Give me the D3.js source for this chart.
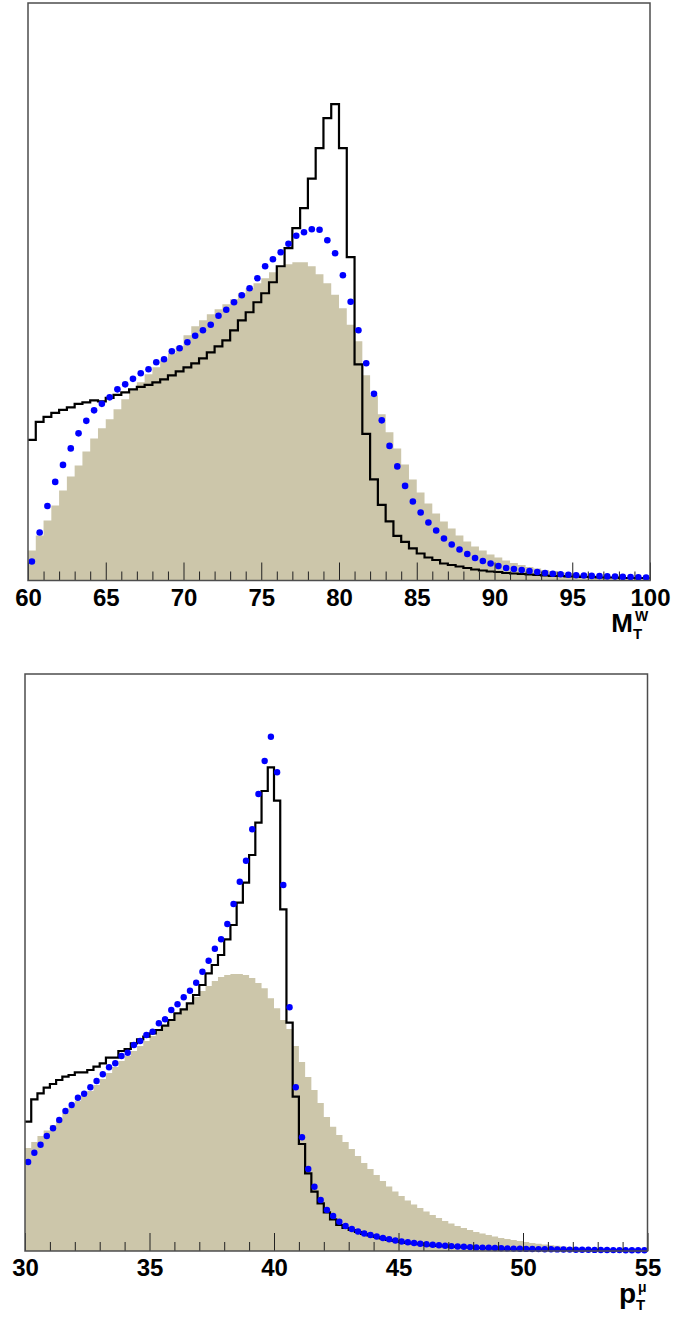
<!DOCTYPE html>
<html>
<head>
<meta charset="utf-8">
<script src="https://cdn.jsdelivr.net/npm/d3@7"></script>
<style>
  body { margin: 0; background: #fff; }
  svg text { font-family: "Liberation Sans", Arial, sans-serif; font-weight: bold; }
</style>
</head>
<body>
<div id="my_chart"></div>
<script>

// ---- data: transverse mass of the W (60-100, 80 bins of 0.5) ----
var mtRange = [60, 100];
var mtTicks = [60, 65, 70, 75, 80, 85, 90, 95, 100];
// shaded histogram
var mtFill = [30, 45, 60, 75, 90, 104, 115, 129, 142, 152,
  161, 171, 181, 190, 198, 206, 213, 220, 227, 234,
  245, 254, 260, 266, 271, 276, 281, 287, 292, 297,
  302, 308, 313, 316, 318, 318, 314, 306, 297, 285.5,
  272, 255.5, 239, 205, 185, 166, 148, 132, 116, 101,
  88, 77, 67, 59, 52, 45, 39, 34, 30, 26,
  23, 20, 17.5, 15.5, 13.5, 12, 10.5, 9.5, 8.5, 7.5,
  6.5, 6, 5.5, 5, 4.5, 4, 3.5, 3.2, 3, 2.8];
// black line histogram
var mtLine = [140.5, 158.5, 163.5, 167.5, 170.5, 173, 176.5, 178, 180, 179,
  182.5, 185.5, 188, 191, 193.5, 195.5, 198, 201, 205, 209,
  213, 217, 222, 228, 234, 240, 250, 260, 268, 278,
  287, 298, 314, 332, 352, 372, 401.5, 432, 462, 476,
  432, 323, 216, 146.5, 101, 75.5, 59, 44.5, 38.5, 32,
  27, 23, 20.5, 17, 15.5, 14, 12.5, 11, 10, 9,
  8.5, 7.5, 7, 6.5, 6, 5.5, 5, 4.5, 4.5, 4,
  4, 3.5, 3.5, 3, 3, 3, 2.5, 2.5, 2.5, 2.5];
// blue markers
var mtDots = [19, 48, 74.5, 98.5, 115.5, 132, 147, 159.5, 170, 176.5,
  183, 191, 196, 201.5, 207, 211, 218, 221, 229, 232,
  238, 244.5, 250, 255.5, 264.5, 270.5, 278, 285, 292, 302,
  314, 321, 328, 336.5, 344.5, 348, 351, 350.5, 340, 327,
  305, 278.5, 250, 217, 186.5, 160, 134.5, 114, 94.5, 79,
  68, 58, 50, 42, 36, 31, 26.5, 22.5, 19.5, 17,
  14.5, 12.5, 11.5, 10.5, 9.5, 8.5, 7.5, 6.8, 6.2, 5.7,
  5.2, 5, 4.6, 4.4, 4.1, 3.9, 3.6, 3.4, 3.2, 3];

// ---- data: muon transverse momentum (30-55, 100 bins of 0.25) ----
var ptRange = [30, 55];
var ptTicks = [30, 35, 40, 45, 50, 55];
var ptFill = [103, 109, 115, 120.5, 126, 132, 138, 144, 150, 155,
  160, 166, 172, 178, 184, 190, 195, 200, 205, 210,
  215, 220, 225, 230, 236, 242, 248, 254, 260, 265,
  270, 274, 276, 277, 277, 276, 273, 268, 262.7, 252.7,
  242.7, 231, 222, 205, 189, 174, 161, 148, 134, 124.3,
  116, 109, 102, 95, 88, 82, 76, 70, 64.5, 59.5,
  55, 50.5, 46.5, 43, 39.5, 36, 33, 30, 27.5, 25,
  23, 21, 19, 17.5, 16, 14.5, 13, 12, 11, 10,
  9, 8, 7.2, 6.5, 5.8, 5.2, 4.6, 4.1, 3.6, 3.2,
  2.8, 2.5, 2.2, 2, 1.8, 1.6, 1.4, 1.3, 1.2, 1.1];
var ptLine = [129.3, 151.7, 157.7, 163.3, 167, 171, 174.3, 176, 178.7, 178.7,
  181, 184.3, 187.7, 193.3, 193.3, 200, 202, 207.7, 211.7, 214.3,
  217.7, 221, 225.3, 231, 237.7, 241.7, 247.7, 256, 266, 277.7,
  286, 296, 311.7, 326, 348.3, 368.3, 396, 428.3, 460, 483.7,
  450.3, 341.7, 228.3, 154.3, 107, 77.7, 59.3, 47.7, 38.7, 31.7,
  26, 23, 21, 19, 17, 15.5, 14, 12.5, 11, 10,
  9, 8, 7.5, 6.8, 6.2, 5.6, 5.2, 4.8, 4.4, 4.1,
  3.8, 3.5, 3.2, 3, 2.8, 2.6, 2.4, 2.2, 2, 1.9,
  1.8, 1.6, 1.5, 1.4, 1.3, 1.2, 1.1, 1, 0.9, 0.9,
  0.8, 0.8, 0.7, 0.7, 0.6, 0.6, 0.5, 0.5, 0.5, 0.4];
var ptDots = [89, 98.3, 106.3, 115, 122.7, 131, 140, 146, 153.3, 157.3,
  163.7, 170, 176.7, 183.7, 187.7, 195, 198.3, 206, 210, 216,
  219.3, 227.7, 231.7, 241, 246.7, 253.7, 260.3, 268.3, 279.3, 290.3,
  302.3, 311.7, 327, 347, 369.3, 390.3, 421.7, 457, 490, 514.3,
  478.7, 366, 243.7, 163.7, 113.7, 82, 64.3, 51, 41, 35,
  29.3, 25, 22, 19.5, 17.5, 16, 14.5, 13, 11.7, 10.5,
  9.5, 8.7, 8, 7.3, 6.7, 6.2, 5.7, 5.3, 4.9, 4.5,
  4.2, 3.9, 3.6, 3.4, 3.2, 3.0, 2.8, 2.6, 2.4, 2.3,
  2.1, 2.0, 1.9, 1.8, 1.7, 1.6, 1.5, 1.4, 1.3, 1.2,
  1.2, 1.1, 1.0, 1.0, 0.9, 0.9, 0.8, 0.8, 0.7, 0.7];

var yMax = 577;   // arbitrary units, frame top

var svg = d3.select("#my_chart")
  .append("svg")
    .attr("width", 675)
    .attr("height", 1318);

function drawPanel(p) {
  var x = d3.scaleLinear().domain(p.range).range([p.left, p.right]);
  var y = d3.scaleLinear().domain([0, yMax]).range([p.bottom, p.top]);
  var nb = p.fill.length;
  var bw = (p.range[1] - p.range[0]) / nb;
  var edge = function(i) { return p.range[0] + i * bw; };

  // step points: each bin low edge, plus the last high edge
  function steps(vals) {
    var pts = vals.map(function(v, i) { return [edge(i), v]; });
    pts.push([p.range[1], vals[vals.length - 1]]);
    return pts;
  }

  var g = svg.append("g");

  g.append("path")
    .datum(steps(p.fill))
    .attr("fill", "#ccc6aa")
    .attr("d", d3.area()
      .curve(d3.curveStepAfter)
      .x(function(d) { return x(d[0]); })
      .y0(y(0))
      .y1(function(d) { return y(d[1]); }));

  g.append("path")
    .datum(steps(p.line))
    .attr("fill", "none")
    .attr("stroke", "#000")
    .attr("stroke-width", 2.2)
    .attr("d", d3.line()
      .curve(d3.curveStepAfter)
      .x(function(d) { return x(d[0]); })
      .y(function(d) { return y(d[1]); }));

  g.selectAll("circle")
    .data(p.dots)
    .enter()
    .append("circle")
      .attr("cx", function(d, i) { return x(edge(i) + bw / 2); })
      .attr("cy", function(d) { return y(d); })
      .attr("r", p.dotR)
      .attr("fill", "#0000ff");

  // minor ticks every 1 unit
  var minor = d3.range(p.range[0], p.range[1] + 1, 1)
    .filter(function(v) { return p.ticks.indexOf(v) < 0; });
  g.append("g")
    .attr("transform", "translate(0," + p.bottom + ")")
    .call(d3.axisBottom(x).tickValues(minor).tickSize(-9).tickFormat(""))
    .call(function(a) { a.select(".domain").remove(); })
    .selectAll("line").attr("stroke", "#222");

  var ax = g.append("g")
    .attr("transform", "translate(0," + p.bottom + ")")
    .call(d3.axisBottom(x).tickValues(p.ticks).tickSizeInner(-18).tickSizeOuter(0)
      .tickPadding(8).tickFormat(d3.format("d")));
  ax.select(".domain").remove();
  ax.selectAll("line").attr("stroke", "#222");
  ax.selectAll("text")
    .attr("fill", "#000")
    .style("font-size", "24px")
    .style("font-family", "'Liberation Sans', Arial, sans-serif")
    .style("font-weight", "bold");

  // frame
  g.append("rect")
    .attr("x", p.left)
    .attr("y", p.top)
    .attr("width", p.right - p.left)
    .attr("height", p.bottom - p.top)
    .attr("fill", "none")
    .attr("stroke", "#4d4d4d")
    .attr("stroke-width", 1.5);

  // axis title with sub/superscript
  var t = p.title;
  g.append("text").attr("x", t.x).attr("y", t.y)
    .attr("text-anchor", "end").style("font-size", t.size + "px").text(t.main);
  g.append("text").attr("x", t.x + 2).attr("y", t.y - 11)
    .style("font-size", "14px").text(t.sup);
  g.append("text").attr("x", t.x).attr("y", t.y + 7)
    .style("font-size", "15px").text(t.sub);
}

drawPanel({
  left: 28, right: 650, top: 3, bottom: 580.5,
  range: mtRange, ticks: mtTicks,
  fill: mtFill, line: mtLine, dots: mtDots, dotR: 3.3,
  title: { main: "M", sup: "W", sub: "T", x: 633, y: 632, size: 26 }
});

drawPanel({
  left: 25, right: 647.5, top: 674, bottom: 1251,
  range: ptRange, ticks: ptTicks,
  fill: ptFill, line: ptLine, dots: ptDots, dotR: 3.2,
  title: { main: "p", sup: "\u03bc", sub: "T", x: 636, y: 1303, size: 28 }
});

</script>
</body>
</html>
